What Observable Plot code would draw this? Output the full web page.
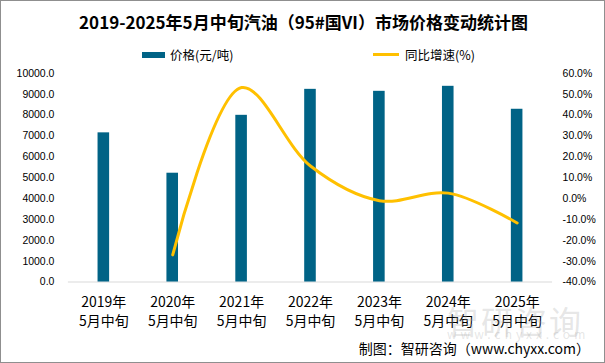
<!DOCTYPE html>
<html>
<head>
<meta charset="utf-8">
<script src="https://cdn.jsdelivr.net/npm/d3@7"></script>
<script src="https://cdn.jsdelivr.net/npm/@observablehq/plot@0.6"></script>
<style>
  body { margin: 0; background: #fff; }
  #wrap { position: relative; width: 605px; height: 363px; box-sizing: border-box; border: 1px solid #8f8f8f; overflow: hidden; font-family: "Noto Sans CJK SC", sans-serif; }
  #chart { position: absolute; left: -1px; top: -1px; }
  .title { position: absolute; left: 0; width: 605px; top: 8px; text-align: center; font-weight: bold; font-size: 17px; color: #000; }
  .leg { position: absolute; top: 44px; font-size: 12.5px; color: #000; display: flex; align-items: center; }
  .sw-bar { width: 23px; height: 6px; background: #006386; margin-right: 5px; }
  .sw-line { width: 26px; height: 3px; background: #FFC000; margin-right: 6px; }
  .wm { position: absolute; color: rgba(170,170,170,0.3); }
  .cap { position: absolute; right: 14px; top: 337px; font-size: 14px; color: #000; }
</style>
</head>
<body>
<div id="wrap">
  <div id="chart"></div>
  <div class="title">2019-2025年5月中旬汽油（95#国VI）市场价格变动统计图</div>
  <div class="leg" style="left:141px"><div class="sw-bar"></div>价格(元/吨)</div>
  <div class="leg" style="left:372px"><div class="sw-line"></div>同比增速(%)</div>
  <div class="wm" style="left:446px; top:296px; font-size:32px; letter-spacing:2px;">智研咨询</div>
  <div class="wm" style="left:446px; top:324px; font-size:12px; letter-spacing:4px;">www.chyxx.com</div>
  <div class="cap">制图：智研咨询（www.chyxx.com）</div>
</div>
<script>
const categories = ["2019年\n5月中旬", "2020年\n5月中旬", "2021年\n5月中旬", "2022年\n5月中旬", "2023年\n5月中旬", "2024年\n5月中旬", "2025年\n5月中旬"];
const prices = [7150, 5215, 7990, 9235, 9140, 9380, 8280];
const growth = [null, -27.0, 53.2, 15.6, -1.0, 2.6, -11.7];
const leftTicks = [0, 1000, 2000, 3000, 4000, 5000, 6000, 7000, 8000, 9000, 10000];
const rightTicks = [-40, -30, -20, -10, 0, 10, 20, 30, 40, 50, 60];

const rows = categories.map((c, i) => ({cat: c, price: prices[i], g: growth[i]}));
const lineRows = rows.filter(d => d.g != null);
// map percent (-40..60) onto the price scale (0..10000)
const toY = p => (p + 40) * 100;

const plot = Plot.plot({
  width: 605,
  height: 363,
  marginTop: 73,
  marginBottom: 81,
  marginLeft: 68,
  marginRight: 52,
  style: {fontFamily: "'Liberation Sans', Arial, sans-serif", fontSize: "10.5px", background: "transparent", overflow: "visible"},
  x: {domain: categories, padding: 0},
  y: {domain: [0, 10000]},
  marks: [
    Plot.ruleY([0], {stroke: "#d9d9d9", strokeWidth: 1}),
    Plot.barY(rows, {x: "cat", y: "price", fill: "#006386", insetLeft: 28.7, insetRight: 28.7}),
    Plot.line(lineRows, {x: "cat", y: d => toY(d.g), stroke: "#FFC000", strokeWidth: 3, curve: "catmull-rom"}),
    Plot.axisY({ticks: leftTicks, tickSize: 0, tickPadding: 14, tickFormat: d => d.toFixed(1), label: null, fill: "#000"}),
    Plot.axisY({anchor: "right", ticks: rightTicks.map(toY), tickSize: 0, tickPadding: 10, tickFormat: d => (d / 100 - 40).toFixed(1) + "%", label: null, fill: "#000"}),
    Plot.axisX({tickSize: 0, tickPadding: 12, label: null, fontSize: 14, fontFamily: "'Noto Sans CJK SC', sans-serif", lineHeight: 1.32, fill: "#000"})
  ]
});
document.getElementById("chart").appendChild(plot);
</script>
</body>
</html>
